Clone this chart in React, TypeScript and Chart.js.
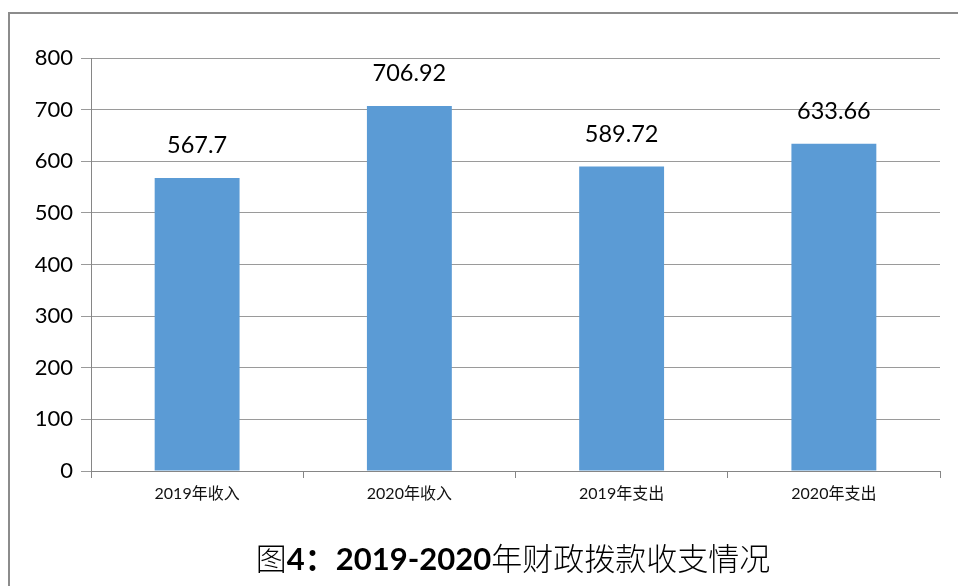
import React, { useEffect, useRef } from "react";
import { Chart, registerables } from "chart.js";

Chart.register(...registerables);

const categories = ["2019年收入", "2020年收入", "2019年支出", "2020年支出"];
const values = [567.7, 706.92, 589.72, 633.66];
const valueLabels = ["567.7", "706.92", "589.72", "633.66"];
const yTicks = [0, 100, 200, 300, 400, 500, 600, 700, 800];

const FONT = "Lato, 'Noto Sans CJK SC', sans-serif";

export default function App() {
  const ref = useRef<HTMLCanvasElement | null>(null);

  useEffect(() => {
    document.body.style.margin = "0";
    const ctx = ref.current!.getContext("2d")!;
    const labelPlugin = {
      id: "valueLabels",
      afterDatasetsDraw(chart: any) {
        const meta = chart.getDatasetMeta(0);
        const c = chart.ctx;
        c.save();
        c.font = `23.5px ${FONT}`;
        c.fillStyle = "#000";
        c.textAlign = "center";
        c.textBaseline = "alphabetic";
        meta.data.forEach((el: any, i: number) => {
          c.fillText(valueLabels[i], el.x, el.y - 25);
        });
        c.restore();
      },
    };
    const chart = new Chart(ctx, {
      type: "bar",
      data: {
        labels: categories,
        datasets: [
          {
            data: values,
            backgroundColor: "#5B9BD5",
            barPercentage: 0.4,
            categoryPercentage: 1,
          },
        ],
      },
      options: {
        animation: false,
        responsive: false,
        maintainAspectRatio: false,
        layout: { padding: { left: 0, top: 58, right: 18, bottom: 0 } },
        plugins: {
          legend: { display: false },
          tooltip: { enabled: false },
          title: { display: false },
        },
        scales: {
          x: {
            offset: true,
            grid: {
              offset: true,
              drawOnChartArea: false,
              drawTicks: true,
              tickLength: 7,
              color: "#868686",
            },
            border: { color: "#868686", width: 1 },
            ticks: {
              font: { family: FONT, size: 16 },
              color: "#111",
              padding: 6,
              maxRotation: 0,
            },
            afterFit(scale: any) {
              scale.height = 115;
            },
          },
          y: {
            min: 0,
            max: 800,
            afterBuildTicks(scale: any) {
              scale.ticks = yTicks.map((v) => ({ value: v }));
            },
            grid: {
              color: "#9a9a9a",
              tickLength: 10,
              drawTicks: true,
            },
            border: { color: "#868686", width: 1 },
            ticks: {
              font: { family: FONT, size: 22 },
              color: "#000",
              padding: 8,
            },
            afterFit(scale: any) {
              scale.width = 91;
            },
          },
        },
      },
      plugins: [labelPlugin],
    });
    return () => chart.destroy();
  }, []);

  return (
    <div
      style={{
        position: "absolute",
        left: 0,
        top: 0,
        width: 958,
        height: 586,
        overflow: "hidden",
        background: "#fff",
      }}
    >
      <div
        style={{
          position: "absolute",
          left: 8,
          top: 12,
          width: 1000,
          height: 700,
          border: "2px solid #8c8c8c",
          boxSizing: "border-box",
        }}
      />
      <canvas
        ref={ref}
        width={958}
        height={586}
        style={{ position: "absolute", left: 0, top: 0, width: 958, height: 586 }}
      />
      <div
        style={{
          position: "absolute",
          left: 0,
          width: 1026,
          top: 537,
          textAlign: "center",
          fontFamily: "'Noto Sans CJK SC', sans-serif",
          fontWeight: 300,
          fontSize: 31,
          lineHeight: "40px",
          color: "#000",
          whiteSpace: "nowrap",
        }}
      >
        <span>图</span>
        <span style={{ fontWeight: 700, fontFamily: "Lato, 'Noto Sans CJK SC', sans-serif" }}>4：2019-2020</span>
        <span>年财政拨款收支情况</span>
      </div>
    </div>
  );
}
